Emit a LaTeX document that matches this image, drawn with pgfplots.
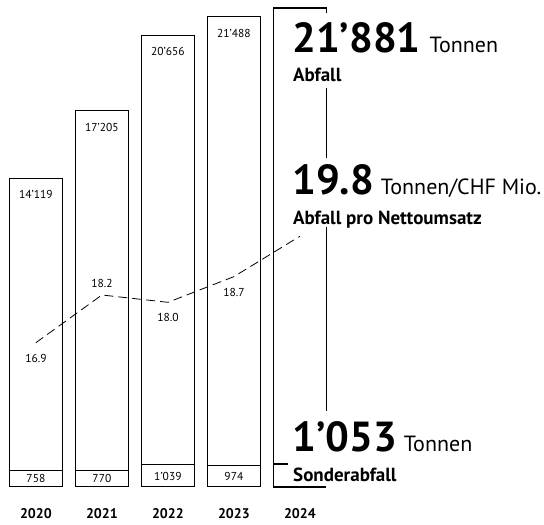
\documentclass[border=0pt]{standalone}
\usepackage{fontspec}
\setmainfont{PT Sans}
\usepackage{pgfplots}
\pgfplotsset{compat=1.18}
\newcommand{\fs}[1]{\fontsize{#1}{#1}\selectfont}
\begin{document}
\begin{tikzpicture}
% ---------- bars (tonnes)
\begin{axis}[at={(0pt,38pt)}, anchor=south west, scale only axis,
  width=544pt, height=487pt,
  xmin=-0.5439, xmax=7.6985, ymin=0, ymax=22258,
  hide axis, clip=false]
% total waste
\addplot[ybar, bar width=53pt, bar shift=0pt, fill=white, draw=black, line width=1pt]
  coordinates {(0,14119) (1,17205) (2,20656) (3,21488)};
% hazardous waste
\addplot[ybar, bar width=53pt, bar shift=0pt, fill=white, draw=black, line width=1pt]
  coordinates {(0,758) (1,770) (2,1039) (3,974)};
% 2024 open bar (21881 total, 1053 hazardous)
\addplot[black, line width=1.8pt, line join=miter] coordinates
  {(4.4015,21664) (4.4015,21881) (3.5985,21881) (3.5985,0) (4.4015,0)};
\addplot[black, line width=1.5pt] coordinates {(3.5985,1053) (3.8258,1053)};
\addplot[black, line width=1.5pt] coordinates {(4.4015,18236) (4.4015,15037)};
\addplot[black, line width=1.5pt] coordinates {(4.4015,11883) (4.4015,3473)};
% labels
\tikzset{lab/.style={font=\fs{11.5}, anchor=center}}
\node[lab, yshift=-16.5pt] at (axis cs:0,14119) {14’119};
\node[lab, yshift=-16.5pt] at (axis cs:1,17205) {17’205};
\node[lab, yshift=-16.5pt] at (axis cs:2,20656) {20’656};
\node[lab, yshift=-16.5pt] at (axis cs:3,21488) {21’488};
\node[lab, yshift=-8.5pt] at (axis cs:0,758) {758};
\node[lab, yshift=-8.5pt] at (axis cs:1,770) {770};
\node[lab, yshift=-12pt] at (axis cs:2,1039) {1’039};
\node[lab, yshift=-10.5pt] at (axis cs:3,974) {974};
\foreach \i/\y in {0/2020,1/2021,2/2022,3/2023,4/2024}{
  \edef\tmp{\noexpand\node[font=\noexpand\fs{14}\noexpand\bfseries, anchor=base, yshift=-32pt] at (axis cs:\i,0) {\y};}
  \tmp
}
\end{axis}
% ---------- ratio line (tonnes per CHF mio.)
\begin{axis}[at={(0pt,38pt)}, anchor=south west, scale only axis,
  width=544pt, height=487pt,
  xmin=-0.5439, xmax=7.6985, ymin=12.968, ymax=26.238,
  hide axis, clip=false]
\addplot[black, line width=0.8pt, dash pattern=on 9pt off 5pt]
  coordinates {(0,16.9) (1,18.2) (2,18.0) (3,18.7) (4,19.8)};
\tikzset{lab/.style={font=\fs{11.5}, anchor=center}}
\node[lab, yshift=-16pt] at (axis cs:0,16.9) {16.9};
\node[lab, yshift=12pt] at (axis cs:1,18.2) {18.2};
\node[lab, yshift=-15pt] at (axis cs:2,18.0) {18.0};
\node[lab, yshift=-16pt] at (axis cs:3,18.7) {18.7};
\end{axis}
% ---------- 2024 key figures
\node[anchor=base west, inner sep=0pt] at (292pt,472pt) {{\fs{42}\bfseries 21’881}\hspace{9pt}{\fs{22}Tonnen}};
\node[anchor=base west, inner sep=0pt] at (293pt,443pt) {\fs{19}\bfseries Abfall};
\node[anchor=base west, inner sep=0pt] at (292pt,330pt) {{\fs{42}\bfseries 19.8}\hspace{7pt}{\fs{22}Tonnen/CHF Mio.}};
\node[anchor=base west, inner sep=0pt] at (293pt,300pt) {\fs{19}\bfseries Abfall pro Nettoumsatz};
\node[anchor=base west, inner sep=0pt] at (292pt,73pt) {{\fs{42}\bfseries 1’053}\hspace{7pt}{\fs{22}Tonnen}};
\node[anchor=base west, inner sep=0pt] at (293pt,43pt) {\fs{19}\bfseries Sonderabfall};
\pgfresetboundingbox
\useasboundingbox (0pt,0pt) rectangle (544pt,525pt);
\end{tikzpicture}
\end{document}
